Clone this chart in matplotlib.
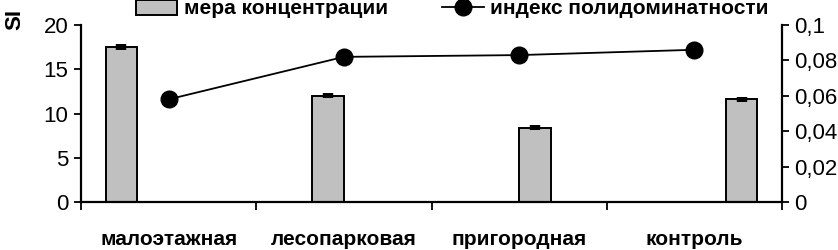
import matplotlib.pyplot as plt
import numpy as np
from matplotlib.lines import Line2D
from matplotlib.patches import Patch
from matplotlib.ticker import FuncFormatter

plt.rcParams['font.family'] = ['Liberation Sans', 'DejaVu Sans']

categories = ['малоэтажная', 'лесопарковая', 'пригородная', 'контроль']
concentration = [17.5, 12.0, 8.4, 11.6]
concentration_err = [0.3, 0.3, 0.3, 0.3]
polydominance = [0.058, 0.082, 0.083, 0.086]

fig = plt.figure(figsize=(8.38, 2.5), dpi=100)
ax = fig.add_axes([81 / 838, 48 / 250, 701 / 838, 177 / 250])
ax2 = ax.twinx()

x = np.arange(len(categories))
width = 0.18
# Excel-style cluster: each category sits in its own series slot
offsets = (np.arange(len(categories)) - 1.5) * width

ax.bar(x + offsets, concentration, width, color='#c0c0c0',
       edgecolor='black', linewidth=1.4, zorder=2)
ax.errorbar(x + offsets, concentration, yerr=concentration_err, fmt='none',
            ecolor='black', elinewidth=7.5, capsize=0, zorder=3)

ax2.plot(x, polydominance, color='black', linewidth=1.3, marker='o',
         markersize=12, zorder=4)

ax.set_xlim(-0.5, len(categories) - 0.5)
ax.set_ylim(0, 20)
ax.set_yticks([0, 5, 10, 15, 20])
ax2.set_ylim(0, 0.1)
ax2.set_yticks([0, 0.02, 0.04, 0.06, 0.08, 0.1])
ax2.yaxis.set_major_formatter(FuncFormatter(lambda v, p: ('%g' % round(v, 2)).replace('.', ',')))

ax.set_xticks(x)
ax.set_xticklabels(categories, fontweight='bold', fontsize=15)
ax.set_xticks(np.arange(len(categories) + 1) - 0.5, minor=True)
ax.tick_params(axis='x', which='major', length=0, pad=20)
ax.tick_params(axis='x', which='minor', length=6, width=1.3, direction='out')
ax.tick_params(axis='y', length=5, width=1.3, labelsize=16, pad=4)
ax2.tick_params(axis='y', length=5, width=1.3, labelsize=16, pad=4)

for a in (ax, ax2):
    a.spines['top'].set_visible(False)
    for s in ('left', 'right', 'bottom'):
        a.spines[s].set_linewidth(1.6)
ax.spines['right'].set_visible(False)
ax2.spines['left'].set_visible(False)
ax2.spines['bottom'].set_visible(False)

fig.text(15 / 838, 1 - 20 / 250, 'SI', rotation=90, fontsize=16,
         fontweight='bold', ha='center', va='center')

handles = [Patch(facecolor='#c0c0c0', edgecolor='black', linewidth=1.4),
           Line2D([], [], color='black', linewidth=1.3, marker='o', markersize=12)]
fig.legend(handles, ['мера концентрации', 'индекс полидоминатности'],
           loc='center', bbox_to_anchor=(452 / 838, 1 - 9 / 250), ncol=2,
           frameon=False, prop={'weight': 'bold', 'size': 15},
           handlelength=2.0, handletextpad=0.3, columnspacing=2.6,
           borderpad=0, borderaxespad=0)

fig.savefig('out.png', dpi=100)
